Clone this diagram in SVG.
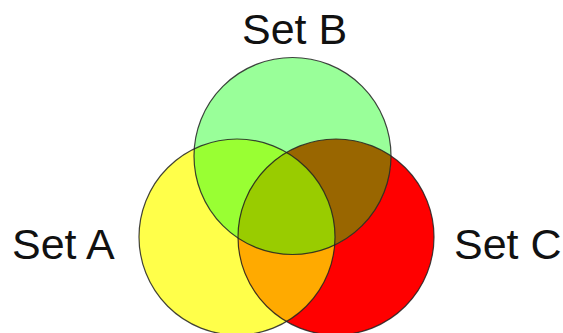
<svg xmlns="http://www.w3.org/2000/svg" width="563" height="333" viewBox="0 0 563 333">
  <style>
    .label { font-family: "Liberation Sans", Arial, sans-serif; font-size: 43px; fill: #111; }
    .outline { fill: none; stroke: #222; stroke-opacity: 0.85; stroke-width: 1.2; }
  </style>
  <defs>
    <circle id="cA" cx="237" cy="237" r="98"/>
    <circle id="cB" cx="292.5" cy="156" r="98.5"/>
    <circle id="cC" cx="336" cy="237" r="98"/>
    <clipPath id="clipA"><use href="#cA"/></clipPath>
    <clipPath id="clipC"><use href="#cC"/></clipPath>
  </defs>

  <rect width="563" height="333" fill="#ffffff"/>

  <!-- filled regions of the three sets and their overlaps -->
  <g id="regions">
    <use href="#cA" fill="#ffff4a"/>
    <use href="#cC" fill="#ff0000"/>
    <use href="#cB" fill="#99ff99"/>
    <!-- A and C -->
    <use href="#cC" fill="#ffaa00" clip-path="url(#clipA)"/>
    <!-- A and B -->
    <use href="#cB" fill="#99ff33" clip-path="url(#clipA)"/>
    <!-- B and C -->
    <use href="#cB" fill="#996600" clip-path="url(#clipC)"/>
    <!-- A, B and C -->
    <g clip-path="url(#clipA)">
      <use href="#cB" fill="#99cc00" clip-path="url(#clipC)"/>
    </g>
  </g>

  <g id="setA">
    <use href="#cA" class="outline"/>
    <text class="label" x="12" y="259">Set A</text>
  </g>
  <g id="setB">
    <use href="#cB" class="outline"/>
    <text class="label" x="242" y="44">Set B</text>
  </g>
  <g id="setC">
    <use href="#cC" class="outline"/>
    <text class="label" x="454" y="259">Set C</text>
  </g>
</svg>
